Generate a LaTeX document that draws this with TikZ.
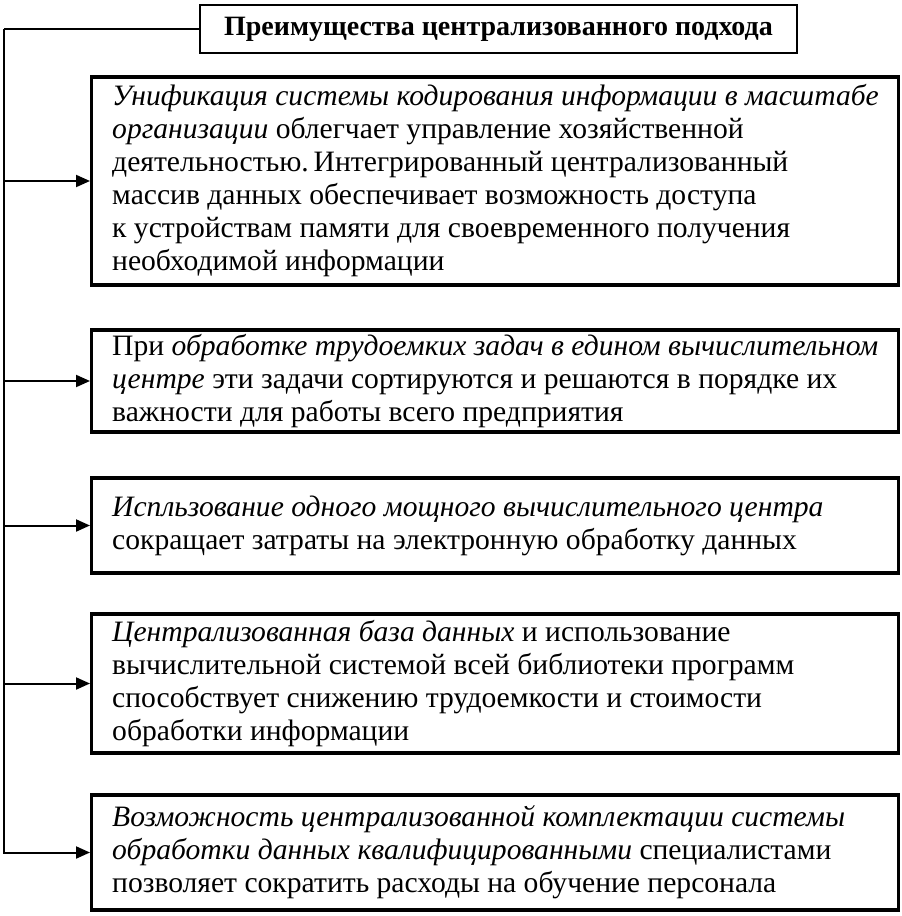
\documentclass[tikz,border=0pt]{standalone}
\usepackage{fontspec}
\setmainfont{Liberation Serif}
\usepackage{tikz}
\usetikzlibrary{arrows.meta,positioning}

\begin{document}
\begin{tikzpicture}[x=1pt,y=-1pt]
                    \tikzstyle{every node}+=[inner sep=0pt]
                    \tikzstyle{box}=[draw=black, line width=3.2pt, minimum width=807pt, anchor=west]
                    \tikzstyle{txt}=[anchor=west, align=left, font=\fontsize{29.6}{33}\selectfont]
                    \tikzstyle{bus}=[black, line width=2pt]
                    \tikzstyle{arr}=[bus, -{Triangle[length=14pt,width=12pt]}]
                    \useasboundingbox (0,0) rectangle (902,916);
                    % title
                    \node [draw=black, line width=2.4pt, minimum width=597pt, minimum height=48pt,
                           font=\fontsize{28}{30}\selectfont\bfseries] (title) at (498.5,29)
                           {Преимущества централизованного подхода};
                    % boxes
                    \node [box, minimum height=208pt] (b1) at (90,181) {};
                    \node [box, minimum height=102pt] (b2) at (90,381) {};
                    \node [box, minimum height=95pt] (b3) at (90,525.5) {};
                    \node [box, minimum height=139pt] (b4) at (90,683.5) {};
                    \node [box, minimum height=115pt] (b5) at (90,852.5) {};
                    % texts
                    \node [txt, right=22pt of b1.west] (t1) {\textit{Унификация системы кодирования информации в масштабе}\\
                        \textit{организации} облегчает управление хозяйственной\\
                        деятельностью.\,Интегрированный централизованный\\
                        массив данных обеспечивает возможность доступа\\
                        к устройствам памяти для своевременного получения\\
                        необходимой информации};
                    \node [txt, right=22pt of b2.west] (t2) {При \textit{обработке трудоемких задач в едином вычислительном}\\
                        \textit{центре} эти задачи сортируются и решаются в порядке их\\
                        важности для работы всего предприятия};
                    \node [txt, right=22pt of b3.west] (t3) {\textit{Испльзование одного мощного вычислительного центра}\\
                        сокращает затраты на электронную обработку данных};
                    \node [txt, right=22pt of b4.west] (t4) {\textit{Централизованная база данных} и использование\\
                        вычислительной системой всей библиотеки программ\\
                        способствует снижению трудоемкости и стоимости\\
                        обработки информации};
                    \node [txt, right=22pt of b5.west] (t5) {\textit{Возможность централизованной комплектации системы}\\
                        \textit{обработки данных квалифицированными} специалистами\\
                        позволяет сократить расходы на обучение персонала};
                    % connectors
                    \draw [bus] (title.west) -- ++(-195,0) coordinate (c0);
                    \draw [arr] (c0) |- (b5.west);
                    \foreach \b in {b1,b2,b3,b4}
                        \draw [arr] (c0 |- \b.west) -- (\b.west);
                \end{tikzpicture}
\end{document}
